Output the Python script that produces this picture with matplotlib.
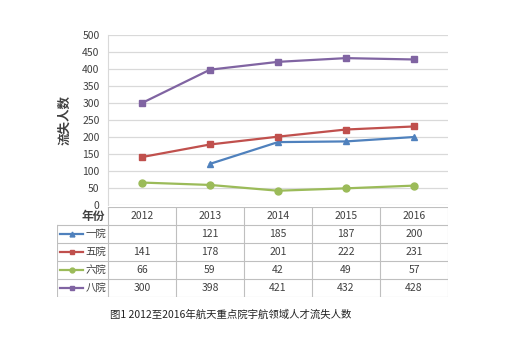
import numpy as np
import matplotlib
matplotlib.use('Agg')
import matplotlib.pyplot as plt

plt.rcParams['font.family'] = ['Noto Sans CJK SC', 'DejaVu Sans']

years = ['2012', '2013', '2014', '2015', '2016']
series_names = ['一院', '五院', '六院', '八院']
yiyuan = [np.nan, 121, 185, 187, 200]
wuyuan = [141, 178, 201, 222, 231]
liuyuan = [66, 59, 42, 49, 57]
bayuan = [300, 398, 421, 432, 428]

values = [yiyuan, wuyuan, liuyuan, bayuan]
colors = ['#4F81BD', '#C0504D', '#9BBB59', '#8064A2']
markers = ['^', 's', 'o', 's']
grid_c = '#D9D9D9'
text_c = '#404040'

W, H = 505, 350
fig = plt.figure(figsize=(W / 100, H / 100), dpi=100)

# 图表区
ax = fig.add_axes([108 / W, 1 - 205 / H, 340 / W, 170 / H])
x = np.arange(len(years))
for vals, c, m in zip(values, colors, markers):
    ax.plot(x, vals, color=c, marker=m, markersize=5, linewidth=1.6)
ax.set_xlim(-0.5, len(years) - 0.5)
ax.set_ylim(0, 500)
ax.set_yticks(range(0, 501, 50))
ax.yaxis.grid(True, color=grid_c, linewidth=0.9)
ax.set_axisbelow(True)
ax.set_xticks([])
for s in ['top', 'right', 'bottom']:
    ax.spines[s].set_visible(False)
ax.spines['left'].set_color(grid_c)
ax.tick_params(axis='y', length=0, labelsize=7.5, labelcolor=text_c, pad=6)
ax.set_ylabel('流失人数', fontsize=9, fontweight='bold', color=text_c, labelpad=8)

# 数据表
tb = fig.add_axes([57 / W, 1 - 297 / H, 391 / W, 90 / H])
tb.set_xlim(-1.25, len(years) - 0.5)
tb.set_ylim(len(series_names) + 1, 0)
tb.axis('off')
lw = 0.8
tc = '#BFBFBF'
# 横线
tb.plot([-0.5, len(years) - 0.5], [0, 0], color=tc, lw=lw)
for r in range(1, len(series_names) + 2):
    tb.plot([-1.25, len(years) - 0.5], [r, r], color=tc, lw=lw)
# 竖线
tb.plot([-1.25, -1.25], [1, len(series_names) + 1], color=tc, lw=lw)
for cidx in range(len(years) + 1):
    tb.plot([cidx - 0.5, cidx - 0.5], [0, len(series_names) + 1], color=tc, lw=lw)

tb.text(-0.55, 0.55, '年份', ha='right', va='center', fontsize=8.5,
        fontweight='bold', color=text_c)
for i, yr in enumerate(years):
    tb.text(i, 0.5, yr, ha='center', va='center', fontsize=7.5, color=text_c)

for r, (name, vals, c, m) in enumerate(zip(series_names, values, colors, markers), start=1):
    tb.plot([-1.2, -0.87], [r + 0.5, r + 0.5], color=c, lw=1.6)
    tb.plot([-1.035], [r + 0.5], color=c, marker=m, markersize=3.5)
    tb.text(-0.83, r + 0.5, name, ha='left', va='center', fontsize=7.5, color=text_c)
    for i, v in enumerate(vals):
        if not np.isnan(v):
            tb.text(i, r + 0.5, str(int(v)), ha='center', va='center', fontsize=7.5, color=text_c)

fig.text(110 / W, 1 - 315 / H, '图1 2012至2016年航天重点院宇航领域人才流失人数',
         ha='left', va='center', fontsize=7.5, color='#222222')

fig.savefig('out.png', dpi=100)
